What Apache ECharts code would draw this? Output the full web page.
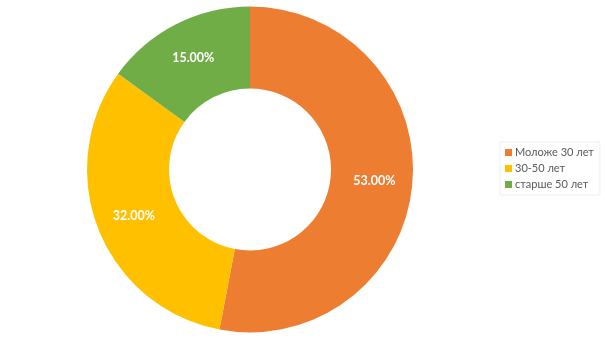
<!DOCTYPE html>
<html><head><meta charset="utf-8">
<script src="https://cdn.jsdelivr.net/npm/echarts@6/dist/echarts.min.js"></script>
<style>html,body{margin:0;padding:0;background:#fff}#c{width:605px;height:340px}</style>
</head><body><div id="c"></div>
<script>
const categories = ['Моложе 30 лет', '30-50 лет', 'старше 50 лет'];
const values = [53, 32, 15];
const colors = ['#ED7D31', '#FFC000', '#70AD47'];

const chart = echarts.init(document.getElementById('c'));
chart.setOption({
  animation: false,
  color: colors,
  legend: {
    orient: 'vertical',
    left: 500, top: 142,
    itemWidth: 7, itemHeight: 7, itemGap: 5,
    icon: 'rect',
    padding: [5, 6, 5, 5],
    borderColor: '#eeeeee', borderWidth: 1,
    textStyle: { fontFamily: 'Lato', fontSize: 11, color: '#595959', padding: [0, 0, 0, -2] },
    data: categories
  },
  series: [{
    type: 'pie',
    center: [250, 169.5],
    radius: [81, 163],
    startAngle: 90,
    clockwise: true,
    label: {
      position: 'inside',
      color: '#fff',
      fontFamily: 'Lato', fontWeight: 'bold', fontSize: 12.5,
      formatter: p => p.value.toFixed(2) + '%'
    },
    labelLine: { show: false },
    emphasis: { disabled: true },
    data: categories.map((n, i) => ({ name: n, value: values[i] }))
  }]
});
</script></body></html>
